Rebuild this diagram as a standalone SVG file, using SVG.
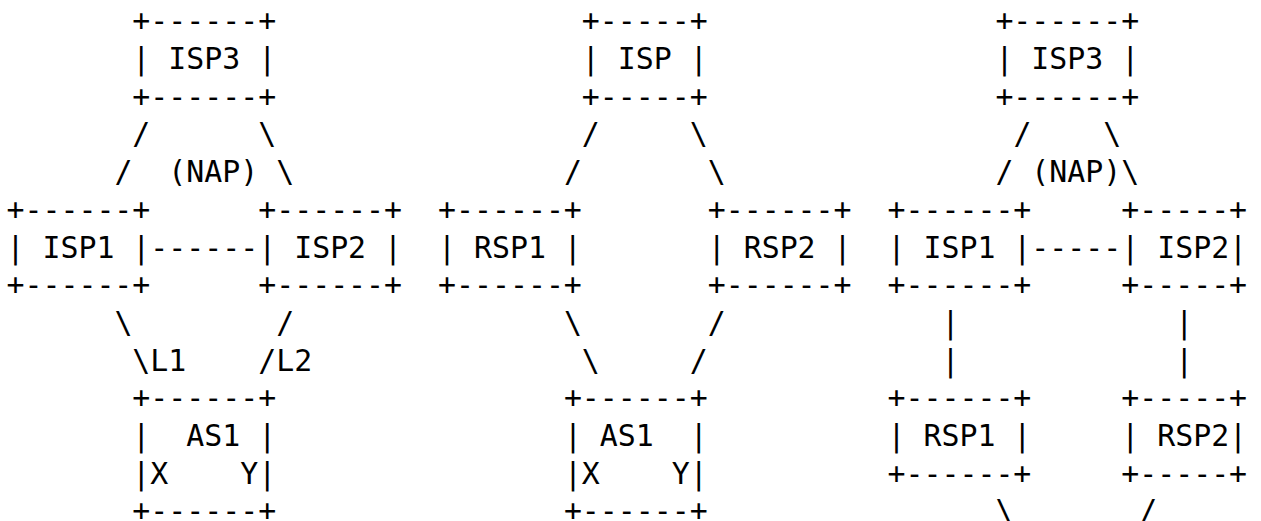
<svg xmlns="http://www.w3.org/2000/svg" width="1261" height="521" viewBox="0 0 1261 521" xml:space="preserve">
<style>
text { font-family: "DejaVu Sans Mono", "Liberation Mono", monospace; font-size: 29.87px; fill: #000; white-space: pre; }
</style>
<rect width="1261" height="521" fill="#fff"/>
<g id="p1-isp3"><text x="132.36" y="31.3">+------+</text><text x="132.36" y="69">| ISP3 |</text><text x="132.36" y="106.7">+------+</text></g>
<g id="p1-isp1"><text x="6.5" y="219.8">+------+</text><text x="6.5" y="257.5">| ISP1 |</text><text x="6.5" y="295.2">+------+</text></g>
<g id="p1-isp2"><text x="258.22" y="219.8">+------+</text><text x="258.22" y="257.5">| ISP2 |</text><text x="258.22" y="295.2">+------+</text></g>
<g id="p1-as1"><text x="132.36" y="408.3">+------+</text><text x="132.36" y="446">|  AS1 |</text><text x="132.36" y="483.7">|X    Y|</text><text x="132.36" y="521.4">+------+</text></g>
<g id="p2-isp"><text x="581.86" y="31.3">+-----+</text><text x="581.86" y="69">| ISP |</text><text x="581.86" y="106.7">+-----+</text></g>
<g id="p2-rsp1"><text x="438.02" y="219.8">+------+</text><text x="438.02" y="257.5">| RSP1 |</text><text x="438.02" y="295.2">+------+</text></g>
<g id="p2-rsp2"><text x="707.72" y="219.8">+------+</text><text x="707.72" y="257.5">| RSP2 |</text><text x="707.72" y="295.2">+------+</text></g>
<g id="p2-as1"><text x="563.88" y="408.3">+------+</text><text x="563.88" y="446">| AS1  |</text><text x="563.88" y="483.7">|X    Y|</text><text x="563.88" y="521.4">+------+</text></g>
<g id="p3-isp3"><text x="995.4" y="31.3">+------+</text><text x="995.4" y="69">| ISP3 |</text><text x="995.4" y="106.7">+------+</text></g>
<g id="p3-isp1"><text x="887.52" y="219.8">+------+</text><text x="887.52" y="257.5">| ISP1 |</text><text x="887.52" y="295.2">+------+</text></g>
<g id="p3-isp2"><text x="1121.26" y="219.8">+-----+</text><text x="1121.26" y="257.5">| ISP2|</text><text x="1121.26" y="295.2">+-----+</text></g>
<g id="p3-rsp1"><text x="887.52" y="408.3">+------+</text><text x="887.52" y="446">| RSP1 |</text><text x="887.52" y="483.7">+------+</text></g>
<g id="p3-rsp2"><text x="1121.26" y="408.3">+-----+</text><text x="1121.26" y="446">| RSP2|</text><text x="1121.26" y="483.7">+-----+</text></g>
<g id="connectors">
<text x="132.36" y="144.4">/</text><text x="258.22" y="144.4">\</text>
<text x="114.38" y="182.1">/</text><text x="168.32" y="182.1">(NAP)</text><text x="276.2" y="182.1">\</text>
<text x="150.34" y="257.5">------</text>
<text x="114.38" y="332.9">\</text><text x="276.2" y="332.9">/</text>
<text x="132.36" y="370.6">\L1</text><text x="258.22" y="370.6">/L2</text>
<text x="581.86" y="144.4">/</text><text x="689.74" y="144.4">\</text>
<text x="563.88" y="182.1">/</text><text x="707.72" y="182.1">\</text>
<text x="563.88" y="332.9">\</text><text x="707.72" y="332.9">/</text>
<text x="581.86" y="370.6">\</text><text x="689.74" y="370.6">/</text>
<text x="1013.38" y="144.4">/</text><text x="1103.28" y="144.4">\</text>
<text x="995.4" y="182.1">/</text><text x="1031.36" y="182.1">(NAP)</text><text x="1121.26" y="182.1">\</text>
<text x="1031.36" y="257.5">-----</text>
<text x="941.46" y="332.9">|</text><text x="1175.2" y="332.9">|</text>
<text x="941.46" y="370.6">|</text><text x="1175.2" y="370.6">|</text>
<text x="995.4" y="521.4">\</text><text x="1139.24" y="521.4">/</text>
</g>
</svg>
